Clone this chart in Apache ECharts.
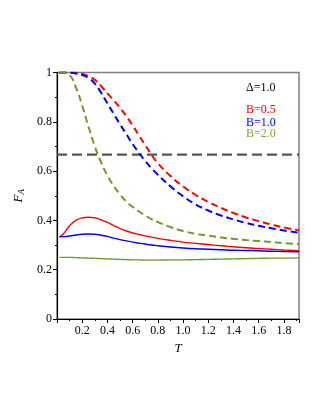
<!DOCTYPE html>
<html>
<head>
<meta charset="utf-8">
<script src="https://cdn.jsdelivr.net/npm/echarts@6/dist/echarts.min.js"></script>
<style>
    html, body { margin: 0; padding: 0; background: #fff; }
    #chart { width: 323px; height: 418px; }
</style>
</head>
<body>
<div id="chart"></div>
<script>
// temperature grid shared by all curves
var T = [0.02, 0.05, 0.1, 0.15, 0.2, 0.25, 0.3, 0.35, 0.4, 0.45, 0.5, 0.55, 0.6, 0.65, 0.7, 0.75, 0.8, 0.9, 1.0, 1.1, 1.2, 1.3, 1.4, 1.5, 1.6, 1.7, 1.8, 1.92];

// dashed curves
var dashB05 = [1, 1, 1, 0.999, 0.995, 0.985, 0.97, 0.945, 0.915, 0.887, 0.857, 0.823, 0.785, 0.745, 0.705, 0.666, 0.632, 0.58, 0.538, 0.503, 0.475, 0.451, 0.43, 0.412, 0.397, 0.383, 0.371, 0.36];
var dashB10 = [1, 1, 0.999, 0.996, 0.99, 0.978, 0.955, 0.918, 0.875, 0.832, 0.79, 0.75, 0.71, 0.674, 0.641, 0.611, 0.585, 0.538, 0.498, 0.465, 0.44, 0.42, 0.404, 0.39, 0.378, 0.368, 0.359, 0.35];
var dashB20 = [1, 1, 0.99, 0.94, 0.865, 0.78, 0.70, 0.635, 0.582, 0.54, 0.505, 0.477, 0.455, 0.436, 0.42, 0.405, 0.393, 0.373, 0.357, 0.346, 0.338, 0.331, 0.325, 0.32, 0.316, 0.312, 0.308, 0.304];

// solid curves
var solidB05 = [0.333, 0.345, 0.378, 0.400, 0.410, 0.413, 0.410, 0.402, 0.392, 0.379, 0.367, 0.357, 0.349, 0.343, 0.337, 0.332, 0.327, 0.319, 0.312, 0.307, 0.302, 0.297, 0.293, 0.289, 0.286, 0.283, 0.28, 0.277];
var solidB10 = [0.333, 0.334, 0.337, 0.341, 0.344, 0.345, 0.344, 0.34, 0.335, 0.328, 0.322, 0.317, 0.312, 0.308, 0.304, 0.3, 0.297, 0.292, 0.288, 0.285, 0.283, 0.281, 0.279, 0.278, 0.277, 0.275, 0.274, 0.273];
var solidB20 = [0.25, 0.25, 0.25, 0.249, 0.248, 0.247, 0.246, 0.245, 0.244, 0.243, 0.242, 0.241, 0.24, 0.24, 0.239, 0.239, 0.239, 0.24, 0.24, 0.241, 0.242, 0.243, 0.244, 0.245, 0.246, 0.247, 0.247, 0.248];

// horizontal reference level
var refLevel = 2 / 3;
var xRange = [0, 1.92];

var legendLabels = ['\u0394=1.0', 'B=0.5', 'B=1.0', 'B=2.0'];

var RED = '#ff0000';
var BLUE = '#0000ff';
var GREEN = '#6f9a2c';
var FONT = '"Liberation Serif", "DejaVu Serif", serif';

function pairs(ys) {
    return T.map(function (t, i) { return [t, ys[i]]; });
}

function curve(name, ys, color, dashed) {
    return {
        name: name,
        type: 'line',
        smooth: true,
        showSymbol: false,
        silent: true,
        lineStyle: {
            color: color,
            width: dashed ? 2 : 1.4,
            type: dashed ? [7, 4] : 'solid'
        },
        data: pairs(ys)
    };
}

var chart = echarts.init(document.getElementById('chart'));

chart.setOption({
    animation: false,
    grid: {
        left: 57,
        right: 24,
        top: 72.5,
        bottom: 99,
        show: true,
        borderColor: '#808080',
        borderWidth: 1.5
    },
    xAxis: {
        type: 'value',
        min: xRange[0],
        max: xRange[1],
        interval: 0.2,
        name: 'T',
        nameLocation: 'middle',
        nameGap: 22,
        nameTextStyle: { fontFamily: FONT, fontStyle: 'italic', fontSize: 13, color: '#000' },
        axisLine: { onZero: false, lineStyle: { color: '#000', width: 1.2 } },
        axisTick: { length: 4, lineStyle: { color: '#000' } },
        minorTick: { show: true, splitNumber: 2, length: 2, lineStyle: { color: '#000' } },
        splitLine: { show: false },
        axisLabel: {
            fontFamily: FONT,
            fontSize: 12,
            color: '#000',
            margin: 6,
            formatter: function (v) {
                if (v < 0.1 || Math.abs(v / 0.2 - Math.round(v / 0.2)) > 1e-6) return '';
                return v.toFixed(1);
            }
        }
    },
    yAxis: {
        type: 'value',
        min: 0,
        max: 1,
        interval: 0.2,
        name: '{f|F}{s|A}',
        nameLocation: 'middle',
        nameGap: 29,
        nameRotate: 90,
        nameTextStyle: {
            rich: {
                f: { fontFamily: FONT, fontStyle: 'italic', fontSize: 13, color: '#000' },
                s: { fontFamily: FONT, fontStyle: 'italic', fontSize: 9, color: '#000', verticalAlign: 'bottom', padding: [6, 0, 0, 0] }
            }
        },
        axisLine: { onZero: false, lineStyle: { color: '#000', width: 1.2 } },
        axisTick: { length: 4, lineStyle: { color: '#000' } },
        minorTick: { show: true, splitNumber: 2, length: 2, lineStyle: { color: '#000' } },
        splitLine: { show: false },
        axisLabel: { fontFamily: FONT, fontSize: 12, color: '#000', margin: 5 }
    },
    series: [
        {
            name: 'ref',
            type: 'line',
            showSymbol: false,
            silent: true,
            lineStyle: { color: '#555', width: 2.2, type: [10, 5] },
            data: [[xRange[0], refLevel], [xRange[1], refLevel]]
        },
        curve('B=0.5 dashed', dashB05, RED, true),
        curve('B=1.0 dashed', dashB10, BLUE, true),
        curve('B=2.0 dashed', dashB20, GREEN, true),
        curve('B=0.5', solidB05, RED, false),
        curve('B=1.0', solidB10, BLUE, false),
        curve('B=2.0', solidB20, GREEN, false)
    ],
    graphic: [
        { type: 'text', left: 246, top: 82, style: { text: legendLabels[0], fill: '#000', font: '12px ' + FONT } },
        { type: 'text', left: 246, top: 104, style: { text: legendLabels[1], fill: RED, font: '12px ' + FONT } },
        { type: 'text', left: 246, top: 116.5, style: { text: legendLabels[2], fill: BLUE, font: '12px ' + FONT } },
        { type: 'text', left: 246, top: 128, style: { text: legendLabels[3], fill: '#999933', font: '12px ' + FONT } }
    ]
});
</script>
</body>
</html>
